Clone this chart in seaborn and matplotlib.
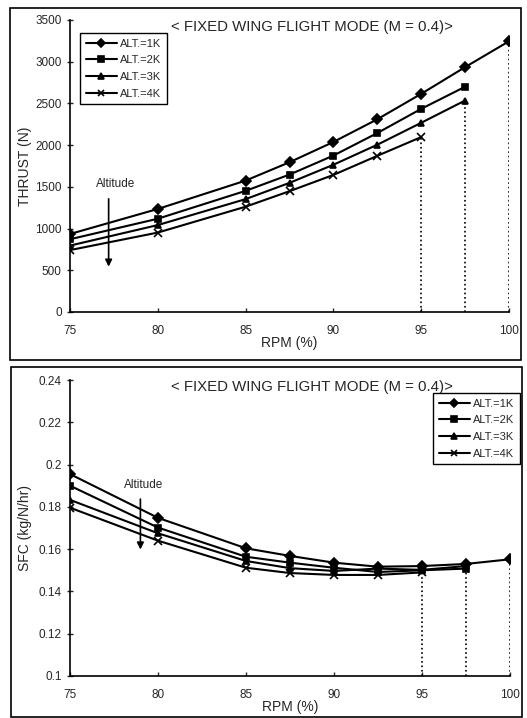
import numpy as np
import pandas as pd
import matplotlib
matplotlib.use('Agg')
import matplotlib.pyplot as plt
from matplotlib.patches import Rectangle
import seaborn as sns

sns.set_style('white')
plt.rcParams['font.family'] = ['Liberation Sans', 'DejaVu Sans']

### Data ###
rpm = [75, 80, 85, 87.5, 90, 92.5, 95, 97.5, 100]
alt_labels = ['ALT.=1K', 'ALT.=2K', 'ALT.=3K', 'ALT.=4K']
markers = ['D', 's', '^', 'x']

thrust_1k = [935, 1235, 1575, 1795, 2038, 2310, 2615, 2935, 3245]
thrust_2k = [872, 1118, 1452, 1647, 1875, 2145, 2435, 2700]
thrust_3k = [796, 1042, 1353, 1548, 1765, 2005, 2268, 2535]
thrust_4k = [742, 952, 1262, 1448, 1643, 1872, 2097]

sfc_1k = [0.1955, 0.1748, 0.1604, 0.1568, 0.1536, 0.1517, 0.1520, 0.1530, 0.1552]
sfc_2k = [0.1900, 0.1702, 0.1564, 0.1536, 0.1512, 0.1492, 0.1500, 0.1508]
sfc_3k = [0.1833, 0.1675, 0.1544, 0.1510, 0.1497, 0.1508, 0.1502, 0.1520]
sfc_4k = [0.1796, 0.1640, 0.1512, 0.1487, 0.1478, 0.1478, 0.1490]

title = '< FIXED WING FLIGHT MODE (M = 0.4)>'

fig = plt.figure(figsize=(5.27, 7.18), dpi=100)

# outer frames around each panel
fig.patches.append(Rectangle((10 / 527, 1 - 360 / 718), 511 / 527, 352 / 718,
                             transform=fig.transFigure, fill=False, lw=1.2, ec='k'))
fig.patches.append(Rectangle((11 / 527, 1 - 717 / 718), 511 / 527, 350 / 718,
                             transform=fig.transFigure, fill=False, lw=1.2, ec='k'))

ax1 = fig.add_axes([70 / 527, 1 - 312 / 718, 439 / 527, 292 / 718])
ax2 = fig.add_axes([70 / 527, 1 - 676 / 718, 440 / 527, 296 / 718])


def draw_panel(ax, series, ylabel, ylim, yticks, yticklabels, legend_loc, drop):
    for lab, mk, vals in zip(alt_labels, markers, series):
        sns.lineplot(x=rpm[:len(vals)], y=vals, ax=ax, color='k', lw=1.5,
                     marker=mk, markersize=5 if mk != 'x' else 6,
                     markeredgewidth=1.2, markeredgecolor='k', label=lab)
    # dotted drop lines from the lowest curve end to the axis
    for xv, yv in drop:
        ax.plot([xv, xv], [ylim[0], yv], color='k', ls=':', lw=1.2)
    ax.set_xlim(75, 100)
    ax.set_ylim(*ylim)
    ax.set_xticks([75, 80, 85, 90, 95, 100])
    ax.set_xticklabels(['75', '80', '85', '90', '95', '100'], fontsize=8.5)
    ax.set_yticks(yticks)
    ax.set_yticklabels(yticklabels, fontsize=8.5)
    ax.set_ylabel(ylabel, fontsize=10)
    ax.yaxis.set_label_coords(-0.087, 0.5)
    ax.set_xlabel('RPM (%)', fontsize=10, labelpad=0)
    for s in ['top', 'right']:
        ax.spines[s].set_visible(False)
    for s in ['left', 'bottom']:
        ax.spines[s].set_color('k')
        ax.spines[s].set_linewidth(1.2)
    ax.tick_params(axis='y', direction='inout', length=4, width=1, pad=4, left=True)
    ax.tick_params(axis='x', direction='in', length=3, width=1, pad=9, bottom=True)
    ax.patch.set_alpha(0)
    ax.text(0.55, 1.0, title, transform=ax.transAxes, ha='center',
            va='top', fontsize=10.8)
    leg = ax.legend(loc=legend_loc, fontsize=8, frameon=True, fancybox=False,
                    edgecolor='k', handlelength=2.8, handletextpad=0.3,
                    borderpad=0.5, labelspacing=0.6, framealpha=1,
                    markerscale=0.75, borderaxespad=0)
    leg.get_frame().set_linewidth(1.0)


draw_panel(ax1, [thrust_1k, thrust_2k, thrust_3k, thrust_4k], 'THRUST (N)',
           (0, 3500), [0, 500, 1000, 1500, 2000, 2500, 3000, 3500],
           ['0', '500', '1000', '1500', '2000', '2500', '3000', '3500'],
           'upper left',
           [(95, thrust_4k[-1]), (97.5, thrust_3k[-1]), (100, thrust_1k[-1])])
ax1.get_legend().set_bbox_to_anchor((10 / 439, 1 - 13 / 292))
ax1.text(77.6, 1530, 'Altitude', fontsize=8.5, ha='center', va='center')
ax1.annotate('', xy=(77.2, 510), xytext=(77.2, 1390),
             arrowprops=dict(arrowstyle='-|>', color='k', lw=1.2))

draw_panel(ax2, [sfc_1k, sfc_2k, sfc_3k, sfc_4k], 'SFC (kg/N/hr)',
           (0.1, 0.24), [0.1, 0.12, 0.14, 0.16, 0.18, 0.2, 0.22, 0.24],
           ['0.1', '0.12', '0.14', '0.16', '0.18', '0.2', '0.22', '0.24'],
           'upper right',
           [(95, sfc_4k[-1]), (97.5, sfc_3k[-1]), (100, sfc_1k[-1])])
ax2.get_legend().set_bbox_to_anchor((1 + 10 / 440, 1 - 13 / 296))
ax2.text(79.2, 0.1905, 'Altitude', fontsize=8.5, ha='center', va='center')
ax2.annotate('', xy=(79.0, 0.1585), xytext=(79.0, 0.1850),
             arrowprops=dict(arrowstyle='-|>', color='k', lw=1.2))

fig.savefig('out.png', dpi=100)
